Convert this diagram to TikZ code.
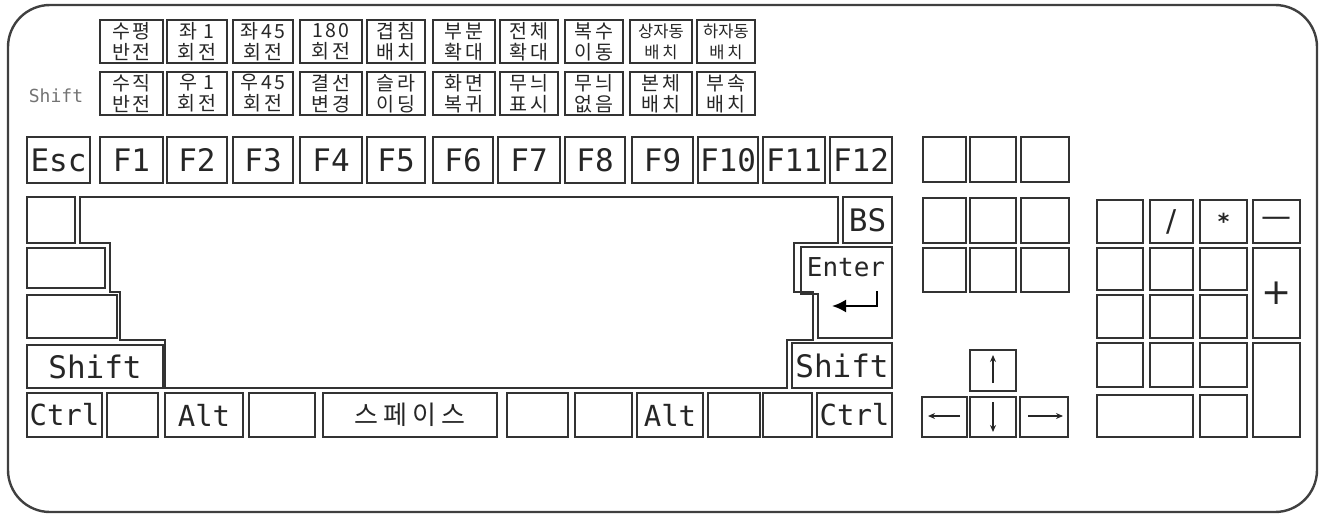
\documentclass[tikz,border=0pt]{standalone}
\usepackage{fontspec}
\usetikzlibrary{arrows.meta}
\newfontfamily\kofont{Noto Sans CJK KR}
\newfontfamily\labfont[LetterSpace=12]{Noto Sans CJK KR}
\newfontfamily\keyfont{DejaVu Sans Mono}
\newfontfamily\symfont{DejaVu Sans}

\begin{document}
\begin{tikzpicture}[
  x=1pt, y=-1pt,
  keycap/.style={rectangle, draw=black!80, line width=2pt, inner sep=0pt, align=center, text=black!85},
  keyline/.style={draw=black!80, line width=2pt},
  lab/.style={keycap, minimum height=43pt, font=\labfont\fontsize{19.5}{21}\selectfont},
  smalllab/.style={lab, font=\kofont\fontsize{16.5}{21}\selectfont},
  fkey/.style={keycap, minimum height=46pt, font=\keyfont\fontsize{31}{31}\selectfont},
  mainkey/.style={keycap, font=\keyfont\fontsize{31}{31}\selectfont},
  bottomkey/.style={keycap, minimum height=44pt, font=\keyfont\fontsize{29}{29}\selectfont},
  navkey/.style={keycap, minimum width=45pt},
  numkey/.style={keycap},
  arrowglyph/.style={line width=1.3pt, draw=black!85, -{Stealth[length=7pt,width=6pt]}}
]
\useasboundingbox (0,0) rectangle (1326,516);
\draw[draw=black!75, line width=2.4pt, rounded corners=42pt] (8,5) rectangle (1317,512);

\node[lab, minimum width=63pt] (lab1) at (131.5,41.5) {수평\\반전};
\node[lab, minimum width=60pt] (lab2) at (197,41.5) {좌 1\\회전};
\node[lab, minimum width=60pt] (lab3) at (263,41.5) {좌45\\회전};
\node[lab, minimum width=62pt] (lab4) at (331,41.5) {180\\회전};
\node[lab, minimum width=58pt] (lab5) at (396,41.5) {겹침\\배치};
\node[lab, minimum width=62pt] (lab6) at (464,41.5) {부분\\확대};
\node[lab, minimum width=58pt] (lab7) at (529,41.5) {전체\\확대};
\node[lab, minimum width=58pt] (lab8) at (594,41.5) {복수\\이동};
\node[smalllab, minimum width=62pt] (lab9) at (661,41.5) {상자동\\배\,치};
\node[smalllab, minimum width=58pt] (lab10) at (726,41.5) {하자동\\배\,치};

\node[font=\keyfont\fontsize{18}{18}\selectfont, text=black!55] (shiftlab) at (56,96) {Shift};
\node[lab, minimum width=63pt] (slab1) at (131.5,93.5) {수직\\반전};
\node[lab, minimum width=60pt] (slab2) at (197,93.5) {우 1\\회전};
\node[lab, minimum width=60pt] (slab3) at (263,93.5) {우45\\회전};
\node[lab, minimum width=62pt] (slab4) at (331,93.5) {결선\\변경};
\node[lab, minimum width=58pt] (slab5) at (396,93.5) {슬라\\이딩};
\node[lab, minimum width=62pt] (slab6) at (464,93.5) {화면\\복귀};
\node[lab, minimum width=58pt] (slab7) at (529,93.5) {무늬\\표시};
\node[lab, minimum width=58pt] (slab8) at (594,93.5) {무늬\\없음};
\node[lab, minimum width=62pt] (slab9) at (661,93.5) {본체\\배치};
\node[lab, minimum width=58pt] (slab10) at (726,93.5) {부속\\배치};

\node[fkey, minimum width=63pt] (esc) at (58.5,160) {Esc};
\node[fkey, minimum width=63pt] (f1) at (131.5,160) {F1};
\node[fkey, minimum width=60pt] (f2) at (197,160) {F2};
\node[fkey, minimum width=60pt] (f3) at (263,160) {F3};
\node[fkey, minimum width=62pt] (f4) at (331,160) {F4};
\node[fkey, minimum width=58pt] (f5) at (396,160) {F5};
\node[fkey, minimum width=60pt] (f6) at (463,160) {F6};
\node[fkey, minimum width=62pt] (f7) at (529,160) {F7};
\node[fkey, minimum width=60pt] (f8) at (595,160) {F8};
\node[fkey, minimum width=61pt] (f9) at (662.5,160) {F9};
\node[fkey, minimum width=60pt] (f10) at (728,160) {F10};
\node[fkey, minimum width=62pt] (f11) at (794,160) {F11};
\node[fkey, minimum width=62pt] (f12) at (861,160) {F12};

\draw[keyline] (80,197) -- (838,197) -- (838,243) -- (794,243) -- (794,292) -- (813,292)
  -- (813,340) -- (787,340) -- (787,388) -- (165,388) -- (165,340) -- (120,340)
  -- (120,292) -- (110,292) -- (110,243) -- (80,243) -- cycle;
\node[mainkey, minimum width=48pt, minimum height=46pt] (tab) at (51,220) {};
\node[mainkey, minimum width=78pt, minimum height=40pt] (caps) at (66,268) {};
\node[mainkey, minimum width=90pt, minimum height=43pt] (lwide) at (72,316.5) {};
\node[mainkey, minimum width=136pt, minimum height=43pt] (lshift) at (95,366.5) {Shift};
\node[mainkey, minimum width=49pt, minimum height=46pt] (bs) at (867.5,220) {BS};
\draw[keyline] (801,247) -- (892,247) -- (892,338) -- (818,338) -- (818,294) -- (801,294) -- cycle;
\node[font=\keyfont\fontsize{26}{26}\selectfont, text=black!85] (enter) at (846,267) {Enter};
\draw[line width=2.2pt, -{Latex[length=14pt,width=13pt]}] (877,291) |- (832,306);
\node[mainkey, minimum width=100pt, minimum height=45pt] (rshift) at (842,365.5) {Shift};

\node[bottomkey, minimum width=75pt] (lctrl) at (64.5,415) {Ctrl};
\node[bottomkey, minimum width=51pt] (lwin) at (132.5,415) {};
\node[bottomkey, minimum width=78pt] (lalt) at (204,415) {Alt};
\node[bottomkey, minimum width=66pt] (lext) at (282,415) {};
\node[bottomkey, minimum width=174pt, font=\kofont\fontsize{26}{26}\selectfont] (space) at (410,415) {스\hspace{5pt}페\hspace{5pt}이\hspace{5pt}스};
\node[bottomkey, minimum width=61pt] (rext1) at (537.5,415) {};
\node[bottomkey, minimum width=57pt] (rext2) at (603.5,415) {};
\node[bottomkey, minimum width=66pt] (ralt) at (670,415) {Alt};
\node[bottomkey, minimum width=52pt] (rwin) at (734,415) {};
\node[bottomkey, minimum width=49pt] (menu) at (787.5,415) {};
\node[bottomkey, minimum width=75pt] (rctrl) at (854.5,415) {Ctrl};

\node[navkey, minimum width=43pt, minimum height=45pt] (prt) at (944.5,159.5) {};
\node[navkey, minimum width=46pt, minimum height=45pt] (scr) at (993,159.5) {};
\node[navkey, minimum width=48pt, minimum height=45pt] (pau) at (1045,159.5) {};
\node[navkey, minimum width=43pt, minimum height=45pt] (ins) at (944.5,220.5) {};
\node[navkey, minimum width=46pt, minimum height=45pt] (hom) at (993,220.5) {};
\node[navkey, minimum width=48pt, minimum height=45pt] (pgu) at (1045,220.5) {};
\node[navkey, minimum width=43pt, minimum height=44pt] (del) at (944.5,270) {};
\node[navkey, minimum width=46pt, minimum height=44pt] (edk) at (993,270) {};
\node[navkey, minimum width=48pt, minimum height=44pt] (pgd) at (1045,270) {};

\node[navkey, minimum width=46pt, minimum height=41pt] (up) at (993,370.5) {};
\node[navkey, minimum width=45pt, minimum height=40pt] (left) at (944.5,417) {};
\node[navkey, minimum width=46pt, minimum height=40pt] (down) at (993,417) {};
\node[navkey, minimum width=48pt, minimum height=40pt] (right) at (1044,417) {};
\draw[arrowglyph] (993,383) -- (993,355);
\draw[arrowglyph] (993,402) -- (993,432);
\draw[arrowglyph] (960,416) -- (928,416);
\draw[arrowglyph] (1028,416) -- (1063,416);

\node[numkey, minimum width=46pt, minimum height=43pt] (num) at (1120,221.5) {};
\node[numkey, minimum width=43pt, minimum height=43pt, font=\symfont\fontsize{30}{30}\selectfont] (div) at (1171.5,221.5) {/};
\node[numkey, minimum width=47pt, minimum height=43pt, font=\symfont\bfseries\fontsize{22}{22}\selectfont] (mul) at (1223.5,221.5) {*};
\node[numkey, minimum width=47pt, minimum height=43pt, font=\symfont\fontsize{30}{30}\selectfont] (sub) at (1276.5,221.5) {—};
\node[numkey, minimum width=46pt, minimum height=42pt] (n7) at (1120,269) {};
\node[numkey, minimum width=43pt, minimum height=42pt] (n8) at (1171.5,269) {};
\node[numkey, minimum width=47pt, minimum height=42pt] (n9) at (1223.5,269) {};
\node[numkey, minimum width=47pt, minimum height=90pt, font=\symfont\fontsize{36}{36}\selectfont] (add) at (1276.5,293) {+};
\node[numkey, minimum width=46pt, minimum height=43pt] (n4) at (1120,316.5) {};
\node[numkey, minimum width=43pt, minimum height=43pt] (n5) at (1171.5,316.5) {};
\node[numkey, minimum width=47pt, minimum height=43pt] (n6) at (1223.5,316.5) {};
\node[numkey, minimum width=46pt, minimum height=44pt] (n1) at (1120,365) {};
\node[numkey, minimum width=43pt, minimum height=44pt] (n2) at (1171.5,365) {};
\node[numkey, minimum width=47pt, minimum height=44pt] (n3) at (1223.5,365) {};
\node[numkey, minimum width=47pt, minimum height=94pt] (nent) at (1276.5,390) {};
\node[numkey, minimum width=96pt, minimum height=42pt] (n0) at (1145,416) {};
\node[numkey, minimum width=47pt, minimum height=42pt] (ndot) at (1223.5,416) {};
\end{tikzpicture}
\end{document}
